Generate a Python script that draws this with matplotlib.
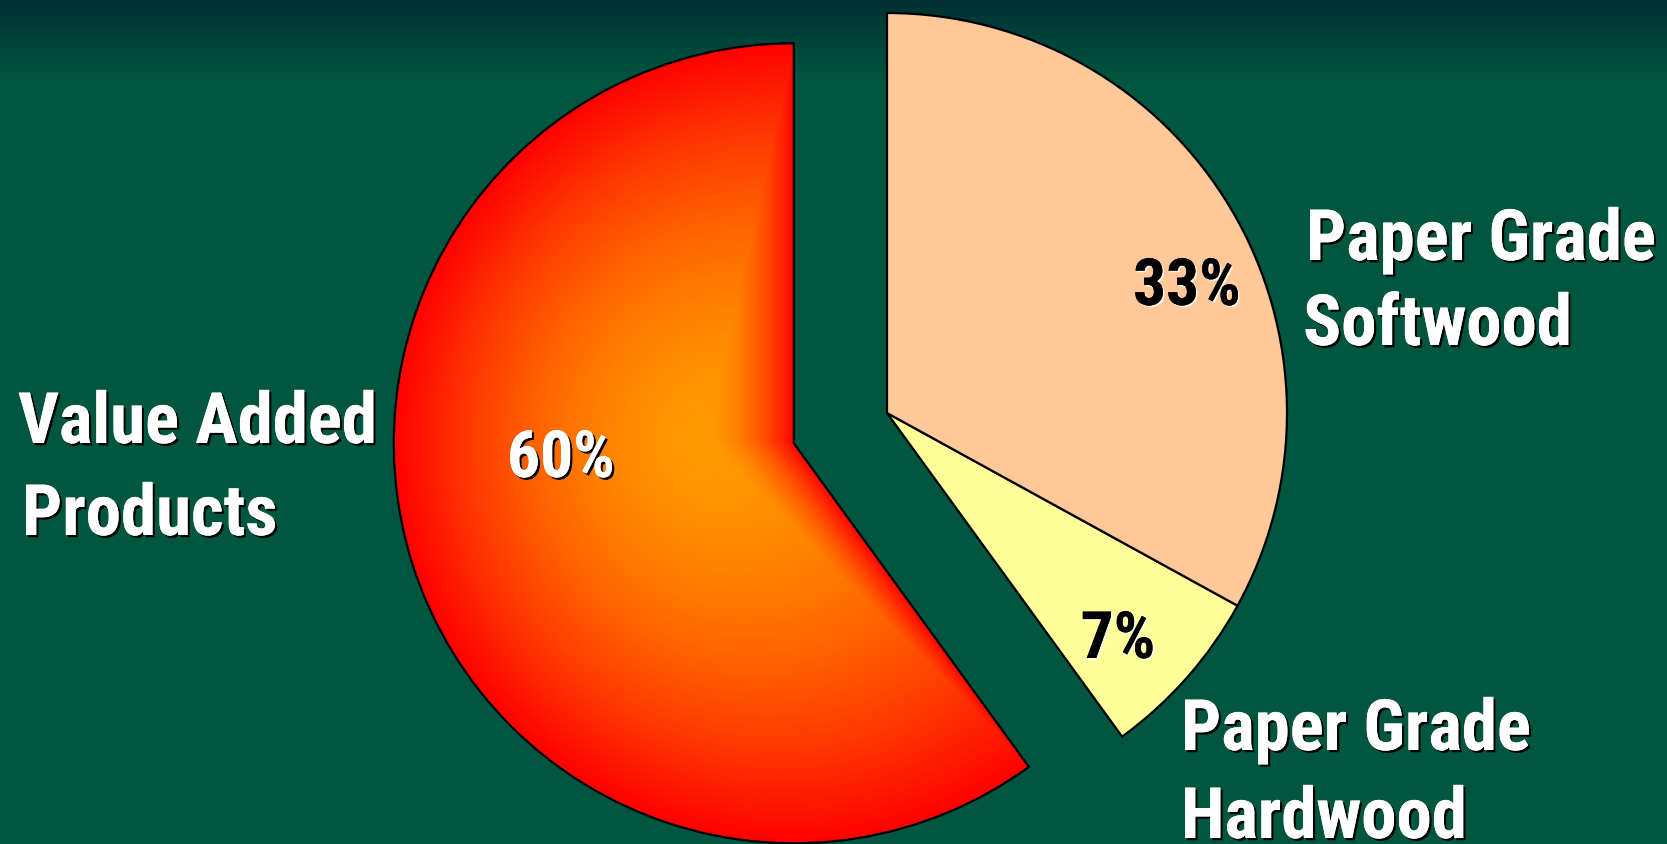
import numpy as np
import matplotlib.pyplot as plt
from matplotlib import patheffects as pe

W, H = 1667, 844

categories = ["Value Added\nProducts", "Paper Grade\nHardwood", "Paper Grade\nSoftwood"]
shares = [60, 7, 33]
colors = ["none", "#FFFF99", "#FFC898"]
explode = [98, 0, 0]

fig = plt.figure(figsize=(W / 100, H / 100), dpi=100)
ax = fig.add_axes([0, 0, 1, 1])

# background: dark teal at the top fading into green
rows = np.arange(H)
k = np.clip(rows / 80.0, 0, 1)[:, None]
top = np.array([0, 48, 52]) / 255
mid = np.array([0, 86, 62]) / 255
bg = top * (1 - k) + mid * k
bg = np.repeat(bg[:, None, :], 4, axis=1)
ax.imshow(bg, extent=[0, W, 0, H], origin="upper", aspect="auto", zorder=0)

wedges, _ = ax.pie(shares, colors=colors, startangle=90, counterclock=True,
                   explode=explode, radius=400, center=(887, H - 413),
                   wedgeprops=dict(edgecolor="black", linewidth=1.6))

# path gradient for the big slice: orange in the middle, red at every edge
w0 = wedges[0]
ax0, ay0 = w0.center
r = w0.r
cx, cy = 705, H - 440
xs = np.arange(ax0 - r, ax0 + r, 1.0)
ys = np.arange(ay0 - r, ay0 + r, 1.0)
X, Y = np.meshgrid(xs, ys)
dx, dy = X - cx, Y - cy
L = np.hypot(dx, dy) + 1e-9
ux, uy = dx / L, dy / L
ox, oy = cx - ax0, cy - ay0
b = ux * ox + uy * oy
s_circ = -b + np.sqrt(np.maximum(b * b - (ox * ox + oy * oy - r * r), 0))

t1, t2 = np.radians(w0.theta1), np.radians(w0.theta2)
e1 = (np.cos(t1), np.sin(t1))
e2 = (np.cos(t2), np.sin(t2))
# excluded cone = cross(e2, q) > 0 and cross(q, e1) > 0
fA0 = e2[0] * oy - e2[1] * ox
fA1 = e2[0] * uy - e2[1] * ux
fB0 = ox * e1[1] - oy * e1[0]
fB1 = ux * e1[1] - uy * e1[0]
with np.errstate(divide="ignore", invalid="ignore"):
    lo = np.zeros_like(L)
    hi = np.full_like(L, np.inf)
    for f0, f1 in ((fA0, fA1), (fB0, fB1)):
        root = -f0 / f1
        lo = np.where(f1 > 0, np.maximum(lo, root), lo)
        hi = np.where(f1 < 0, np.minimum(hi, root), hi)
        if f0 <= 0:
            hi = np.where(f1 == 0, -np.inf, hi)
s_cone = np.where(lo < hi, lo, np.inf)
s = np.minimum(s_circ, s_cone)
t = np.clip(L / s, 0, 1) ** 1.7
orange = np.array([1.0, 0.60, 0.0])
red = np.array([1.0, 0.0, 0.0])
grad = orange * (1 - t[..., None]) + red * t[..., None]
im = ax.imshow(grad, extent=[xs[0], xs[-1] + 1, ys[0], ys[-1] + 1], origin="lower",
               interpolation="bilinear", zorder=0.9)
im.set_clip_path(w0)

font = ["Roboto Condensed", "Roboto", "DejaVu Sans"]
dark_shadow = [pe.withSimplePatchShadow(offset=(1.6, -1.6), shadow_rgbFace="black", alpha=1.0), pe.Normal()]
light_shadow = [pe.withSimplePatchShadow(offset=(1.2, -1.2), shadow_rgbFace="white", alpha=0.8), pe.Normal()]

# category labels, one line at a time (left x, baseline y from top)
label_pos = [[(18, 443), (22, 535)], [(1181, 750), (1181, 838)], [(1306, 260), (1303, 345)]]
for name, pos in zip(categories, label_pos):
    for line, (x, y) in zip(name.split("\n"), pos):
        ax.text(x, H - y, line, family=font, weight="bold", fontsize=51, color="white",
                ha="left", va="baseline", path_effects=dark_shadow, zorder=3)

# percentage labels (centre x, baseline y from top)
pct_pos = [(561, 477), (1118, 658), (1187, 305)]
pct_colors = ["white", "black", "black"]
for v, (x, y), c in zip(shares, pct_pos, pct_colors):
    ax.text(x, H - y, f"{v}%", family=font, weight="bold", fontsize=47, color=c,
            ha="center", va="baseline",
            path_effects=dark_shadow if c == "white" else light_shadow, zorder=3)

ax.set_xlim(0, W)
ax.set_ylim(0, H)
ax.set_aspect("auto")
ax.axis("off")

fig.savefig("out.png", dpi=100)
